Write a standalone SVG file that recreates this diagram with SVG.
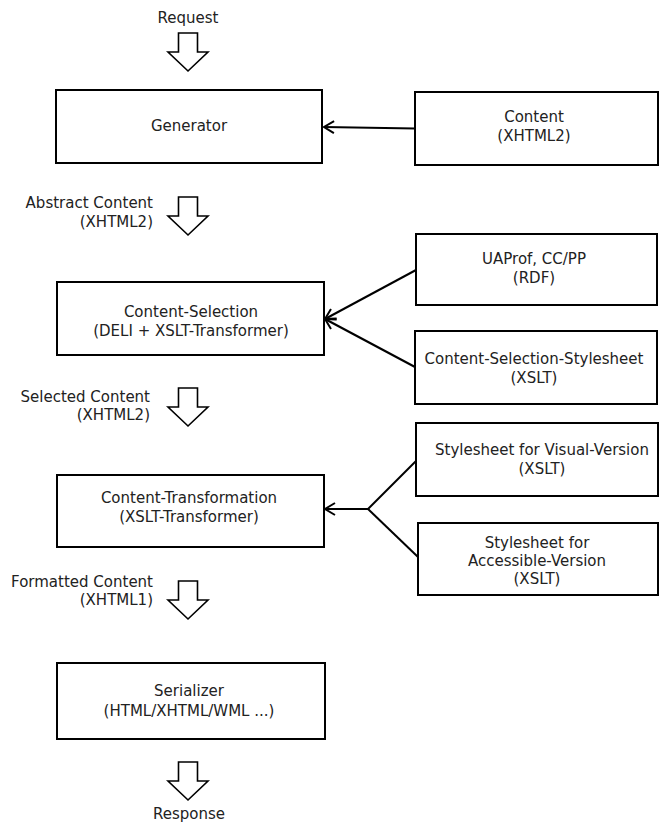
<svg xmlns="http://www.w3.org/2000/svg" width="661" height="824" viewBox="0 0 661 824">
<defs>
<style>
.box{fill:#fff;stroke:#000;stroke-width:2}
.t{font-family:"DejaVu Sans",sans-serif;font-size:15px;fill:#222;text-anchor:middle}
.r{text-anchor:end}
.blk{fill:#fff;stroke:#000;stroke-width:1.6;stroke-linejoin:miter}
.con{fill:none;stroke:#000;stroke-width:2}
</style>
<marker id="ah" markerWidth="14" markerHeight="14" refX="11" refY="7" orient="auto" markerUnits="userSpaceOnUse">
<path d="M1,1 L11,7 L1,13" fill="none" stroke="#000" stroke-width="2"/>
</marker>
<path id="barrow" d="M-9.5,0 h19 v19 h10.5 L0,38 L-20,19 h10.5 z"/>
</defs>

<g id="flow-arrows">
<g id="arrow-request"><text class="t" x="188" y="23">Request</text><use href="#barrow" class="blk" x="188" y="33"/></g>
<g id="arrow-abstract"><text class="t r" x="153" y="208">Abstract Content</text><text class="t r" x="153" y="227">(XHTML2)</text><use href="#barrow" class="blk" x="188" y="197"/></g>
<g id="arrow-selected"><text class="t r" x="150" y="402">Selected Content</text><text class="t r" x="150" y="420">(XHTML2)</text><use href="#barrow" class="blk" x="188" y="388"/></g>
<g id="arrow-formatted"><text class="t r" x="153" y="587">Formatted Content</text><text class="t r" x="153" y="605">(XHTML1)</text><use href="#barrow" class="blk" x="188" y="581"/></g>
<g id="arrow-response"><use href="#barrow" class="blk" x="188" y="762"/><text class="t" x="189" y="819">Response</text></g>
</g>

<g id="generator"><rect class="box" x="56" y="90" width="266" height="73"/><text class="t" x="189" y="131">Generator</text></g>
<g id="content"><rect class="box" x="415" y="92" width="243" height="73"/><text class="t" x="534" y="122">Content</text><text class="t" x="534" y="141">(XHTML2)</text></g>
<g id="content-selection"><rect class="box" x="57" y="282" width="267" height="73"/><text class="t" x="191" y="317">Content-Selection</text><text class="t" x="191" y="336">(DELI + XSLT-Transformer)</text></g>
<g id="uaprof"><rect class="box" x="416" y="234" width="241" height="71"/><text class="t" x="534" y="264">UAProf, CC/PP</text><text class="t" x="534" y="283">(RDF)</text></g>
<g id="cs-stylesheet"><rect class="box" x="415" y="331" width="242" height="73"/><text class="t" x="534" y="364">Content-Selection-Stylesheet</text><text class="t" x="534" y="383">(XSLT)</text></g>
<g id="content-transformation"><rect class="box" x="57" y="475" width="267" height="72"/><text class="t" x="189" y="503">Content-Transformation</text><text class="t" x="189" y="522">(XSLT-Transformer)</text></g>
<g id="visual-stylesheet"><rect class="box" x="416" y="423" width="242" height="73"/><text class="t" x="542" y="455">Stylesheet for Visual-Version</text><text class="t" x="542" y="474">(XSLT)</text></g>
<g id="accessible-stylesheet"><rect class="box" x="418" y="523" width="240" height="72"/><text class="t" x="537" y="548">Stylesheet for</text><text class="t" x="537" y="566">Accessible-Version</text><text class="t" x="537" y="584">(XSLT)</text></g>
<g id="serializer"><rect class="box" x="57" y="663" width="268" height="76"/><text class="t" x="189" y="696">Serializer</text><text class="t" x="189" y="716">(HTML/XHTML/WML ...)</text></g>

<g id="connectors">
<line class="con" x1="415" y1="128.5" x2="324" y2="127" marker-end="url(#ah)"/>
<line class="con" x1="416" y1="270" x2="325" y2="319" marker-end="url(#ah)"/>
<line class="con" x1="415" y1="367" x2="325" y2="319" marker-end="url(#ah)"/>
<line class="con" x1="368" y1="509" x2="325" y2="509" marker-end="url(#ah)"/>
<line class="con" x1="368" y1="509" x2="416" y2="461"/>
<line class="con" x1="368" y1="509" x2="418" y2="557"/>
</g>
</svg>
